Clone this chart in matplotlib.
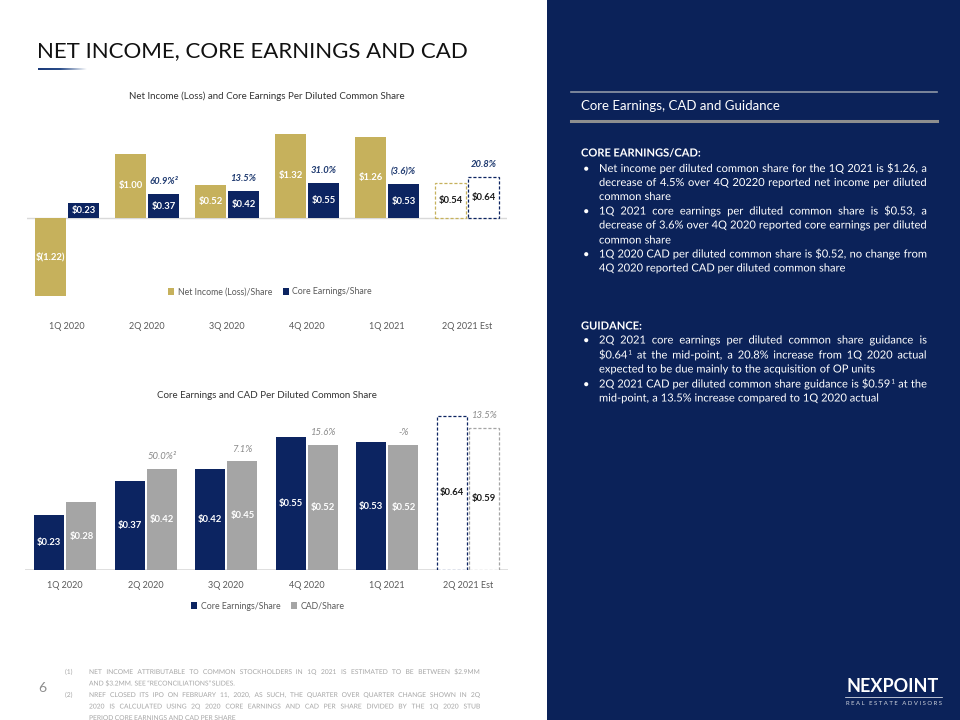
import matplotlib
matplotlib.use("Agg")
import matplotlib.pyplot as plt
import numpy as np
from matplotlib.patches import Rectangle, PathPatch
from matplotlib.colors import LinearSegmentedColormap
from matplotlib.textpath import TextPath
from matplotlib.font_manager import FontProperties
from matplotlib.transforms import Affine2D

FAMILY = ['Lato', 'DejaVu Sans']
plt.rcParams['font.family'] = FAMILY

# ---------------- data ----------------
categories = ["1Q 2020", "2Q 2020", "3Q 2020", "4Q 2020", "1Q 2021", "2Q 2021 Est"]
net_income = [-1.22, 1.00, 0.52, 1.32, 1.26, 0.54]
core_earnings = [0.23, 0.37, 0.42, 0.55, 0.53, 0.64]
cad = [0.28, 0.42, 0.45, 0.52, 0.52, 0.59]
core_change_pct = ["", "60.9%\u00b2", "13.5%", "31.0%", "(3.6)%", "20.8%"]
cad_change_pct = ["", "50.0%\u00b2", "7.1%", "15.6%", "-%", "13.5%"]

title = "NET INCOME, CORE EARNINGS AND CAD"
chart1_title = "Net Income (Loss) and Core Earnings Per Diluted Common Share"
chart2_title = "Core Earnings and CAD Per Diluted Common Share"

NAVY = "#0c2461"
GOLD = "#c6b15c"
GRAY = "#a5a5a5"
PANEL = "#0b2259"
TICK = "#595959"

W, H = 960, 720
fig = plt.figure(figsize=(W / 100, H / 100), dpi=100)
fig.patch.set_facecolor("white")


def fx(x):
    return x / W


def fy(y):
    return 1 - y / H


def esc(s):
    return s.replace("$", r"\$")


def money(v):
    return "$(%.2f)" % abs(v) if v < 0 else "$%.2f" % v


# ---------------- right panel ----------------
fig.patches.append(Rectangle((fx(547), 0), 1 - fx(547), 1, transform=fig.transFigure,
                             facecolor=PANEL, edgecolor="none", zorder=0))
fig.add_artist(plt.Line2D([fx(571), fx(937)], [fy(92), fy(92)], color="#8e97a6", lw=1.2))
fig.add_artist(plt.Line2D([fx(571), fx(937)], [fy(121), fy(121)], color="#8e8f8f", lw=2.2))
fig.text(fx(581), fy(110), "Core Earnings, CAD and Guidance", color="white", fontsize=9.5,
         va="baseline", ha="left")

# ---------------- title ----------------
fig.text(fx(37), fy(57), title, fontsize=16, color="#111111", va="baseline", ha="left")
grad_ax = fig.add_axes([fx(38), fy(70.5), fx(87) - fx(38), 3 / H])
grad = np.linspace(0, 1, 200)[None, :]
cmap = LinearSegmentedColormap.from_list("g", [(0, "#1b3a78"), (0.45, "#2a4d8a"), (1, "#ffffff")])
grad_ax.imshow(grad, aspect="auto", cmap=cmap)
grad_ax.axis("off")

x = np.arange(len(categories))
est = len(categories) - 1

# ---------------- chart 1 ----------------
ax1 = fig.add_axes([fx(27), fy(312), fx(507) - fx(27), 200 / H])
w1, off1 = 0.38, 0.205
b_net = ax1.bar(x - off1, net_income, width=w1, color=GOLD, zorder=2)
b_core = ax1.bar(x + off1, core_earnings, width=w1, color=NAVY, zorder=2)
for b, ec in ((b_net[est], GOLD), (b_core[est], NAVY)):
    b.set_facecolor("white")
    b.set_edgecolor(ec)
    b.set_linestyle((0, (2.5, 1.5)))
    b.set_linewidth(0.9)
ax1.set_xlim(-0.5, len(categories) - 0.5)
ax1.set_ylim(-1.469, 1.656)
ax1.axhline(0, color="#d9d9d9", lw=1, zorder=1)
for s in ax1.spines.values():
    s.set_visible(False)
ax1.set_yticks([])
ax1.set_xticks(x)
ax1.set_xticklabels(categories, fontsize=6.5, color=TICK)
ax1.tick_params(axis="x", length=0, pad=7)
for bars, vals in ((b_net, net_income), (b_core, core_earnings)):
    for i, (b, v) in enumerate(zip(bars, vals)):
        col = "#1a1a1a" if i == est else "white"
        ax1.text(b.get_x() + b.get_width() / 2, v / 2, esc(money(v)), ha="center", va="center",
                 fontsize=6.8, fontweight="bold", color=col, zorder=3)
for i, p in enumerate(core_change_pct):
    if p:
        ax1.annotate(p, (x[i] + off1, core_earnings[i]), xytext=(0, 9), textcoords="offset points",
                     ha="center", va="center", fontsize=6.8, fontweight="bold", fontstyle="italic",
                     color="#1f3a70")
ax1.set_title(chart1_title, fontsize=7, color="#333333", pad=0, y=1.0)
ax1.title.set_position((0.5, 1.0 + (112 - 99) / 200))
ax1.legend([b_net[0], b_core[0]], ["Net Income (Loss)/Share", "Core Earnings/Share"],
           loc="center", bbox_to_anchor=(0.506, 0.1), ncol=2, frameon=False, fontsize=6.3,
           handlelength=0.7, handleheight=0.7, handletextpad=0.4, columnspacing=1.2,
           labelcolor=TICK)

# ---------------- chart 2 ----------------
ax2 = fig.add_axes([fx(25), fy(570), fx(508) - fx(25), 170 / H])
w2, off2 = 0.375, 0.2
b_c2 = ax2.bar(x - off2, core_earnings, width=w2, color=NAVY, zorder=2)
b_cad = ax2.bar(x + off2, cad, width=w2, color=GRAY, zorder=2)
for b, ec in ((b_c2[est], NAVY), (b_cad[est], GRAY)):
    b.set_facecolor("white")
    b.set_edgecolor(ec)
    b.set_linestyle((0, (2.5, 1.5)))
    b.set_linewidth(0.9)
ax2.set_xlim(-0.5, len(categories) - 0.5)
ax2.set_ylim(0, 0.705)
ax2.axhline(0, color="#d9d9d9", lw=1.2, zorder=1)
for s in ax2.spines.values():
    s.set_visible(False)
ax2.set_yticks([])
ax2.set_xticks(x)
ax2.set_xticklabels(categories, fontsize=6.5, color=TICK)
ax2.tick_params(axis="x", length=0, pad=8)
for bars, vals in ((b_c2, core_earnings), (b_cad, cad)):
    for i, (b, v) in enumerate(zip(bars, vals)):
        col = "#1a1a1a" if i == est else "white"
        ax2.text(b.get_x() + b.get_width() / 2, v / 2, esc(money(v)), ha="center", va="center",
                 fontsize=6.8, fontweight="bold", color=col, zorder=3)
for i, p in enumerate(cad_change_pct):
    if p:
        ax2.annotate(p, (x[i] + off2, cad[i]), xytext=(0, 8.5), textcoords="offset points",
                     ha="center", va="center", fontsize=6.8, fontstyle="italic",
                     color="#8a8a8a")
ax2.set_title(chart2_title, fontsize=7, color="#333333", pad=0)
ax2.title.set_position((0.5, 1.0 + (400 - 385) / 170))
ax2.legend([b_c2[0], b_cad[0]], ["Core Earnings/Share", "CAD/Share"],
           loc="center", bbox_to_anchor=(0.503, -0.212), ncol=2, frameon=False, fontsize=6.3,
           handlelength=0.7, handleheight=0.7, handletextpad=0.4, columnspacing=1.2,
           labelcolor=TICK)

# ---------------- text drawn as paths (exact common baselines) ----------------
ov = fig.add_axes([0, 0, 1, 1], zorder=10)
ov.set_xlim(0, W)
ov.set_ylim(H, 0)
ov.axis("off")
ov.patch.set_alpha(0)

renderer = fig.canvas.get_renderer()
SUP = {"\u00b9": "1", "\u00b2": "2"}
PX = 100 / 72.0


def adv(s, fs, weight):
    prop = FontProperties(family=FAMILY, size=fs, weight=weight)
    w, h, d = renderer.get_text_width_height_descent(s, prop, ismath=False)
    return w


def draw_str(s, x0, y, fs, color, weight):
    prop = FontProperties(family=FAMILY, weight=weight)
    tp = TextPath((0, 0), s, size=fs * PX, prop=prop)
    tr = Affine2D().scale(1, -1).translate(x0, y) + ov.transData
    ov.add_patch(PathPatch(tp, transform=tr, facecolor=color, edgecolor="none", lw=0))


def make_word(wd, fs, weight):
    base, sup = wd, ""
    if wd and wd[-1] in SUP:
        base, sup = wd[:-1], SUP[wd[-1]]
    wb = adv(base, fs, weight)
    total = wb
    ws = 0
    if sup:
        ws = adv(sup, fs * 0.6, weight)
        total = wb + 0.5 + ws
    return (base, sup, wb), total


def put(word, cx, y, fs, color, weight):
    base, sup, wb = word
    draw_str(base, cx, y, fs, color, weight)
    if sup:
        draw_str(sup, cx + wb + 0.5, y - 3.8, fs * 0.6, color, weight)


def justify(line, x0, x1, y, fs, color="white", weight="normal"):
    words = line.split(" ")
    items = [make_word(wd, fs, weight) for wd in words]
    gap = (x1 - x0 - sum(w for _, w in items)) / max(len(words) - 1, 1)
    cx = x0
    for it, wdt in items:
        put(it, cx, y, fs, color, weight)
        cx += wdt + gap


def plain(line, x0, y, fs, color="white", weight="normal"):
    space = adv("a a", fs, weight) - adv("aa", fs, weight)
    cx = x0
    for wd in line.split(" "):
        it, wdt = make_word(wd, fs, weight)
        put(it, cx, y, fs, color, weight)
        cx += wdt + space


FS = 8.0
XB, XT, XR = 583, 599, 927
BL = 3.5  # baseline offset from line centre
plain("CORE EARNINGS/CAD:", 581, 153 + BL, FS, weight="bold")
block1 = [
    ("\u2022", "Net income per diluted common share for the 1Q 2021 is $1.26, a", True),
    ("", "decrease of 4.5% over 4Q 20220 reported net income per diluted", True),
    ("", "common share", False),
    ("\u2022", "1Q 2021 core earnings per diluted common share is $0.53, a", True),
    ("", "decrease of 3.6% over 4Q 2020 reported core earnings per diluted", True),
    ("", "common share", False),
    ("\u2022", "1Q 2020 CAD per diluted common share is $0.52, no change from", True),
    ("", "4Q 2020 reported CAD per diluted common share", False),
]
ys1 = [168.5, 182.5, 196.5, 211, 225, 240, 254, 268]
for (bul, txt, j), yy in zip(block1, ys1):
    if bul:
        plain(bul, XB, yy + BL, FS)
    if j:
        justify(txt, XT, XR, yy + BL, FS)
    else:
        plain(txt, XT, yy + BL, FS)

plain("GUIDANCE:", 581, 326 + BL, FS, weight="bold")
block2 = [
    ("\u2022", "2Q 2021 core earnings per diluted common share guidance is", True),
    ("", "$0.64\u00b9 at the mid-point, a 20.8% increase from 1Q 2020 actual", True),
    ("", "expected to be due mainly to the acquisition of OP units", False),
    ("\u2022", "2Q 2021 CAD per diluted common share guidance is $0.59\u00b9 at the", True),
    ("", "mid-point, a 13.5% increase compared to 1Q 2020 actual", False),
]
ys2 = [340, 355, 369, 384, 398]
for (bul, txt, j), yy in zip(block2, ys2):
    if bul:
        plain(bul, XB, yy + BL, FS)
    if j:
        justify(txt, XT, XR, yy + BL, FS)
    else:
        plain(txt, XT, yy + BL, FS)

# ---------------- footer ----------------
FOOT = "#a6a6a6"
FB = 2.0
FFS = 4.8
fig.text(fx(38), fy(688), "6", fontsize=10, color="#8c8c8c", va="center")
plain("(1)", 65, 672 + FB, FFS, color=FOOT)
plain("(2)", 65, 695 + FB, FFS, color=FOOT)
foot_lines = [
    ("NET INCOME ATTRIBUTABLE TO COMMON STOCKHOLDERS IN 1Q 2021 IS ESTIMATED TO BE BETWEEN $2.9MM", 672, True),
    ("AND $3.2MM. SEE \u201cRECONCILIATIONS\u201d SLIDES.", 683.5, False),
    ("NREF CLOSED ITS IPO ON FEBRUARY 11, 2020, AS SUCH, THE QUARTER OVER QUARTER CHANGE SHOWN IN 2Q", 695, True),
    ("2020 IS CALCULATED USING 2Q 2020 CORE EARNINGS AND CAD PER SHARE DIVIDED BY THE 1Q 2020 STUB", 706.5, True),
    ("PERIOD CORE EARNINGS AND CAD PER SHARE", 718, False),
]
for txt, yy, j in foot_lines:
    if j:
        justify(txt, 89, 480, yy + FB, FFS, color=FOOT)
    else:
        plain(txt, 89, yy + FB, FFS, color=FOOT)

fig.text(fx(893), fy(686), "NEXPOINT", fontsize=13, fontweight="bold", color="white",
         ha="center", va="center")
fig.add_artist(plt.Line2D([fx(845), fx(942)], [fy(696.5), fy(696.5)], color="white", lw=0.5))
fig.text(fx(894), fy(703.5), "R E A L   E S T A T E   A D V I S O R S", fontsize=4.3,
         color="#d0d4de", ha="center", va="center")

fig.savefig("out.png", dpi=100)
